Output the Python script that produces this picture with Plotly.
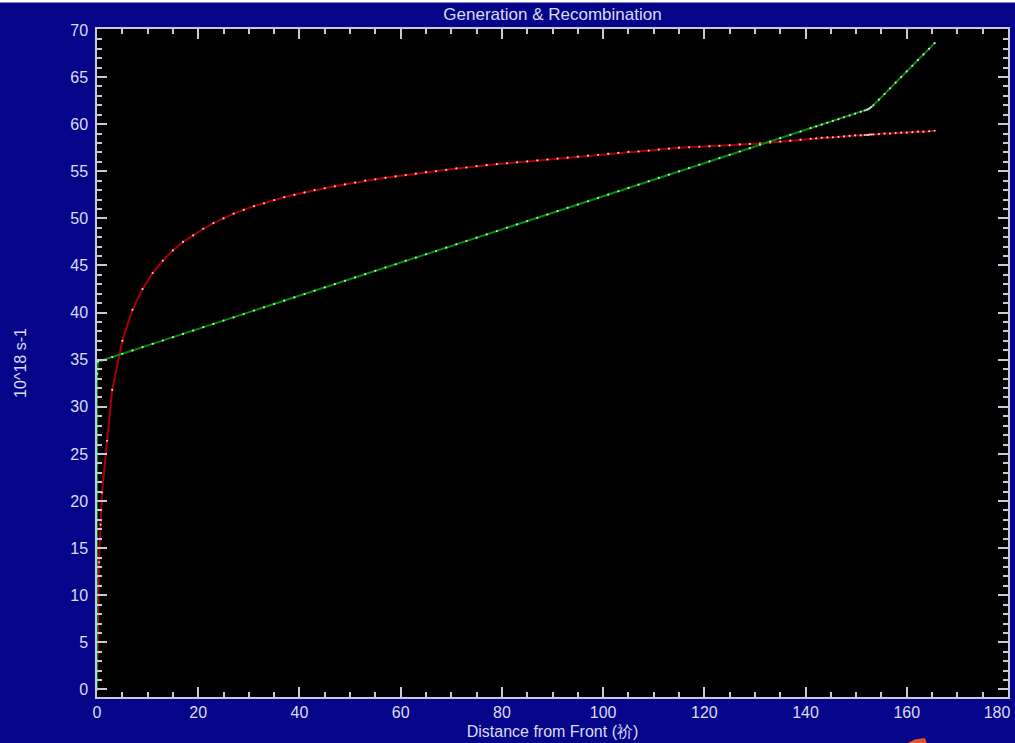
import plotly.graph_objects as go

# ---- data ----
dist_red = [0, 0.2, 0.4, 0.7, 1, 2, 3, 5, 7, 9, 11, 13, 15, 17, 19, 21, 23, 25, 27, 29,
            31, 33, 35, 37, 39, 41, 43, 45, 47, 49, 51, 53, 55, 57, 59, 61, 63, 65, 67, 69,
            71, 73, 75, 77, 79, 81, 83, 85, 87, 89, 91, 93, 95, 97, 99, 101, 103, 105, 107, 109,
            111, 113, 115, 117, 119, 121, 123, 125, 127, 129, 131, 133, 135, 137, 139, 141,
            142.1, 143.2, 144.3, 145.4, 146.5, 147.6, 148.7, 149.8, 150.9, 151.7, 152.1, 152.4,
            152.7, 153.0, 153.4, 154.5, 155.6, 156.7, 157.8, 158.9, 160.0, 161.1, 162.2, 163.3,
            164.4, 165.5]
recomb = [0, 6, 13.5, 17.5, 20.9, 26.4, 31.8, 37.0, 40.3, 42.5, 44.2, 45.5, 46.6, 47.5, 48.2, 48.9,
          49.5, 50.0, 50.5, 50.9, 51.3, 51.6, 51.95, 52.25, 52.5, 52.75, 53.0, 53.2, 53.4, 53.6,
          53.8, 54.0, 54.15, 54.3, 54.45, 54.6, 54.75, 54.9, 55.0, 55.15, 55.3, 55.4, 55.55, 55.65,
          55.75, 55.85, 55.95, 56.05, 56.15, 56.25, 56.35, 56.45, 56.55, 56.65, 56.75, 56.85, 56.95,
          57.05, 57.1, 57.2, 57.3, 57.4, 57.5, 57.55, 57.6, 57.65, 57.7, 57.75, 57.85, 57.9, 57.95,
          58.05, 58.15, 58.25, 58.35, 58.45, 58.5, 58.55, 58.6, 58.6, 58.65, 58.7, 58.75, 58.8,
          58.8, 58.85, 58.85, 58.85, 58.9, 58.9, 58.9, 58.95, 59.0, 59.0, 59.05, 59.1, 59.1, 59.15,
          59.2, 59.2, 59.25, 59.3]

dist_green = [0, 0, 0, 0.05, 0.2, 1, 3, 5, 7, 9, 11, 13, 15, 17, 19, 21, 23, 25, 27, 29,
              31, 33, 35, 37, 39, 41, 43, 45, 47, 49, 51, 53, 55, 57, 59, 61, 63, 65, 67, 69,
              71, 73, 75, 77, 79, 81, 83, 85, 87, 89, 91, 93, 95, 97, 99, 101, 103, 105, 107, 109,
              111, 113, 115, 117, 119, 121, 123, 125, 127, 129, 131, 133, 135, 137, 139, 141,
              142.1, 143.2, 144.3, 145.4, 146.5, 147.6, 148.7, 149.8, 150.9, 151.7, 152.1, 152.4,
              152.7, 153.0, 153.4, 154.5, 155.6, 156.7, 157.8, 158.9, 160.0, 161.1, 162.2, 163.3,
              164.4, 165.5]
generation = [0, 12, 25, 33.5, 34.8, 34.93, 35.28, 35.63, 35.98, 36.33, 36.69, 37.04, 37.39, 37.74,
              38.09, 38.45, 38.8, 39.15, 39.5, 39.85, 40.21, 40.56, 40.91, 41.26, 41.61, 41.97,
              42.32, 42.67, 43.02, 43.37, 43.73, 44.08, 44.43, 44.78, 45.13, 45.49, 45.84, 46.19,
              46.54, 46.89, 47.25, 47.6, 47.95, 48.3, 48.65, 49.01, 49.36, 49.71, 50.06, 50.41,
              50.77, 51.12, 51.47, 51.82, 52.17, 52.53, 52.88, 53.23, 53.58, 53.93, 54.29, 54.64,
              54.99, 55.34, 55.69, 56.05, 56.4, 56.75, 57.1, 57.45, 57.81, 58.16, 58.51, 58.86,
              59.21, 59.57, 59.76, 59.95, 60.15, 60.34, 60.53, 60.73, 60.92, 61.11, 61.31, 61.45,
              61.52, 61.6, 61.7, 61.82, 62.0, 62.6, 63.2, 63.8, 64.4, 65.0, 65.6, 66.2, 66.8, 67.4,
              68.0, 68.6]

x_tick_vals = [0, 20, 40, 60, 80, 100, 120, 140, 160, 180]
x_tick_text = ["0", "20", "40", "60", "80", "100", "120", "140", "160", ""]
x_edge_tick_vals = [180]
x_edge_tick_text = ["180"]

title_text = "Generation & Recombination"
x_title = "Distance from Front (祄)"
y_title = "10^18 s-1"

BLUE = "#05058a"
AX = "#c8c8dc"
TXT = "#dcdcf2"

fig = go.Figure()
fig.add_trace(go.Scatter(x=dist_red, y=recomb, mode="lines+markers", name="Recombination",
                         line=dict(color="#a80000", width=2),
                         marker=dict(size=2.2, color="rgba(255,215,215,0.9)")))
fig.add_trace(go.Scatter(x=dist_green, y=generation, mode="lines+markers", name="Generation",
                         line=dict(color="#008c0a", width=2),
                         marker=dict(size=2.2, color="rgba(215,245,215,0.9)")))
# empty trace so the overlay axis carrying the edge label is drawn
fig.add_trace(go.Scatter(x=[], y=[], xaxis="x2", yaxis="y", showlegend=False, hoverinfo="skip"))

font_fam = "Liberation Sans, Arial, sans-serif"

def px_x(px):
    return (px - 97) / 911.0

def px_y(py):
    return (697 - py) / 668.0

shapes = [
    dict(type="rect", xref="paper", yref="paper", x0=px_x(-5), x1=px_x(1020),
         y0=px_y(2.5), y1=px_y(-5), fillcolor="white", line=dict(width=0), layer="above"),
    dict(type="path", xref="paper", yref="paper",
         path=f"M {px_x(905)} {px_y(744)} L {px_x(915)} {px_y(739.5)} L {px_x(925)} {px_y(738)} "
              f"L {px_x(927)} {px_y(744)} Z",
         fillcolor="#e8532b", line=dict(width=0), layer="above"),
]

fig.update_layout(
    width=1015, height=743, autosize=False,
    margin=dict(l=97, r=7, t=29, b=46, pad=0, autoexpand=False),
    paper_bgcolor=BLUE, plot_bgcolor="black",
    showlegend=False,
    font=dict(family=font_fam, color=TXT, size=16),
    title=dict(text=title_text, x=0.5, xref="paper", xanchor="center",
               y=1 - 14.5 / 743, yref="container", yanchor="middle",
               font=dict(size=17, color=TXT, family=font_fam)),
    shapes=shapes,
)
common = dict(showline=True, linecolor=AX, linewidth=1.5, mirror="ticks",
              ticks="inside", ticklen=10, tickwidth=1.5, tickcolor=AX, automargin=False,
              showgrid=False, zeroline=False, tickfont=dict(size=16, color=TXT))
fig.update_layout(
    xaxis=dict(range=[0, 180], tickmode="array", tickvals=x_tick_vals, ticktext=x_tick_text,
               minor=dict(tickmode="linear", tick0=0, dtick=5, ticks="inside", ticklen=5,
                          tickcolor=AX, tickwidth=1.5, showgrid=False),
               title=dict(text=x_title, font=dict(size=16, color=TXT), standoff=6),
               ticklabelstandoff=0, **common),
    xaxis2=dict(range=[0, 180], overlaying="x", anchor="y", side="bottom",
                tickmode="array", tickvals=x_edge_tick_vals, ticktext=x_edge_tick_text,
                ticklabelshift=-11, ticklabelstandoff=4, ticklabeloverflow="allow",
                ticks="", showline=False, showgrid=False, zeroline=False, automargin=False,
                tickfont=dict(size=16, color=TXT)),
    yaxis=dict(range=[-0.8, 70.1], tickmode="linear", tick0=0, dtick=5,
               minor=dict(dtick=1, ticks="inside", ticklen=5, tickcolor=AX, tickwidth=1.5, showgrid=False),
               title=dict(text=y_title, font=dict(size=16, color=TXT), standoff=40),
               ticklabelstandoff=4, **common),
)

fig.write_html("out.html", config={"displayModeBar": False},
               post_script="document.body.style.margin='0';document.body.style.overflow='hidden';")
